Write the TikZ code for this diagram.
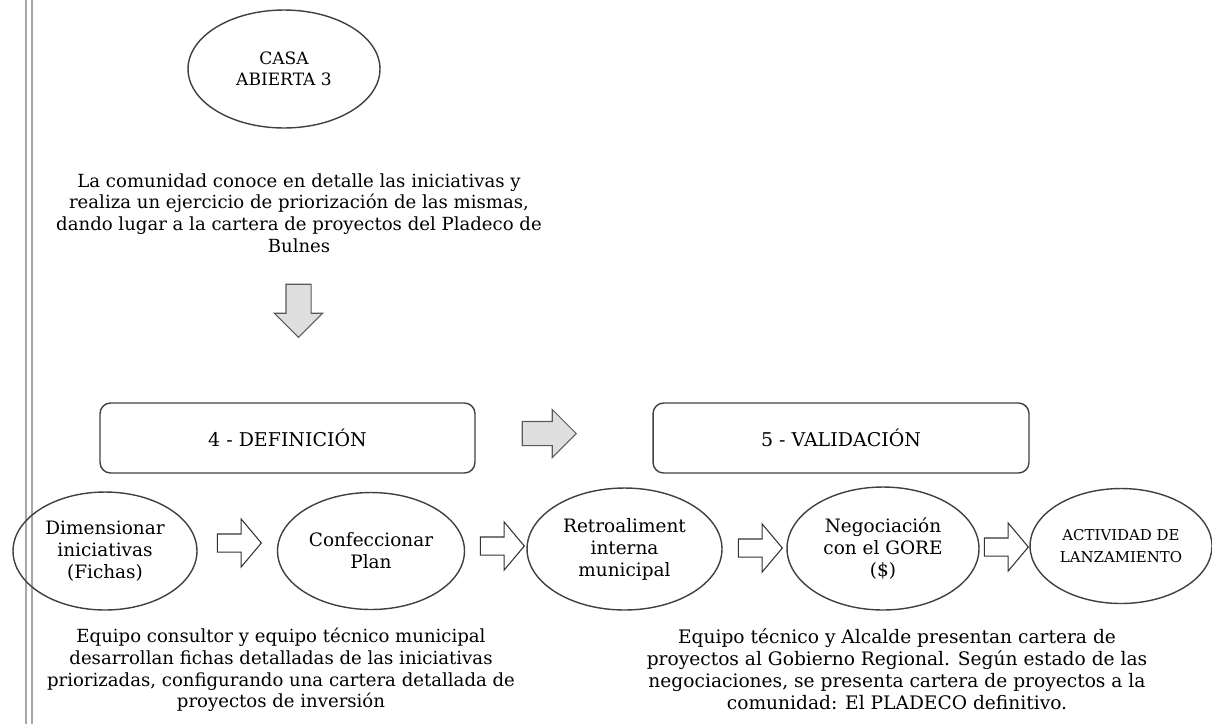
\documentclass[tikz,border=0pt]{standalone}
\usepackage{fontspec}
\setmainfont{DejaVu Serif}
\usetikzlibrary{shapes.geometric,shapes.arrows}

\begin{document}
\begin{tikzpicture}
        [x=0.02cm, y=-0.02cm,
        oval/.style={ellipse, draw=black!75, line width=0.8pt, inner sep=0pt,
            minimum width=3.8cm, minimum height=2.4cm, align=center,
            font=\fontsize{10.5}{12.5}\selectfont},
        stage/.style={rectangle, rounded corners=6pt, draw=black!75, line width=0.8pt,
            minimum width=7.5cm, minimum height=1.4cm, font=\fontsize{10.8}{13}\selectfont},
        note/.style={align=center, inner sep=0pt, font=\fontsize{10.3}{12.4}\selectfont},
        flow/.style={single arrow, draw=black!80, fill=white, line width=0.6pt,
            inner xsep=0pt, inner ysep=0.17cm, single arrow head extend=0.3cm,
            single arrow tip angle=100, minimum height=0.88cm, anchor=tip},
        bigflow/.style={single arrow, draw=black!65, fill=gray!25, line width=0.6pt,
            inner xsep=0pt, inner ysep=0.23cm, single arrow head extend=0.24cm,
            minimum height=1.08cm, anchor=tip},
        border/.style={gray!70, line width=0.6pt}]

        \useasboundingbox (0,0) rectangle (1212,724);

        % page border on the left
        \draw[border] (26,0) -- (26,724);
        \draw[border] (32,0) -- (32,724);

        % --- Casa abierta ---
        \node[oval, minimum width=3.84cm, minimum height=2.36cm,
            font=\fontsize{9.7}{12.2}\selectfont] (casa) at (284,69) {CASA\\ABIERTA 3};
        \node[note] (intro) at (299,213) {La comunidad conoce en detalle las iniciativas y\\
            realiza un ejercicio de priorización de las mismas,\\
            dando lugar a la cartera de proyectos del Pladeco de\\Bulnes};
        \node[bigflow, rotate=-90, inner ysep=0.24cm, single arrow head extend=0.23cm,
            minimum height=1.06cm] (down) at (298.5,338) {};

        % --- Stages ---
        \node[stage] (def) at (287.5,438) {4 - DEFINICIÓN};
        \node[stage, minimum width=7.52cm] (val) at (841,438) {5 - VALIDACIÓN};
        \node[bigflow, single arrow tip angle=90] (next) at (577,433.5) {};

        % --- Steps ---
        \node[oval, minimum width=3.68cm, minimum height=2.36cm] (dim) at (105,551)
            {Dimensionar\\iniciativas\\(Fichas)};
        \node[oval, minimum width=3.74cm, minimum height=2.34cm] (conf) at (371,551)
            {Confeccionar\\Plan};
        \node[oval, minimum width=3.9cm, minimum height=2.44cm] (retro) at (624.5,549)
            {Retroaliment\\interna\\municipal};
        \node[oval, minimum width=3.84cm, minimum height=2.46cm] (nego) at (883,548.5)
            {Negociación\\con el GORE\\(\$)};
        \node[oval, minimum width=3.64cm, minimum height=2.3cm,
            font=\fontsize{8.5}{12.5}\selectfont] (act) at (1121,546)
            {ACTIVIDAD DE\\LANZAMIENTO};

        \node[flow] (a1) at (262,543) {};
        \node[flow] (a2) at (525,546) {};
        \node[flow] (a3) at (783,548) {};
        \node[flow] (a4) at (1029,547) {};

        % --- Notes below ---
        \node[note] (defnote) at (281,670) {Equipo consultor y equipo técnico municipal\\
            desarrollan fichas detalladas de las iniciativas\\
            priorizadas, configurando una cartera detallada de\\proyectos de inversión};
        \node[note, font=\fontsize{10.6}{12.4}\selectfont] (valnote) at (897,669)
            {Equipo técnico y Alcalde presentan cartera de\\
            proyectos al Gobierno Regional. Según estado de las\\
            negociaciones, se presenta cartera de proyectos a la\\
            comunidad: El PLADECO definitivo.};
    \end{tikzpicture}
\end{document}
